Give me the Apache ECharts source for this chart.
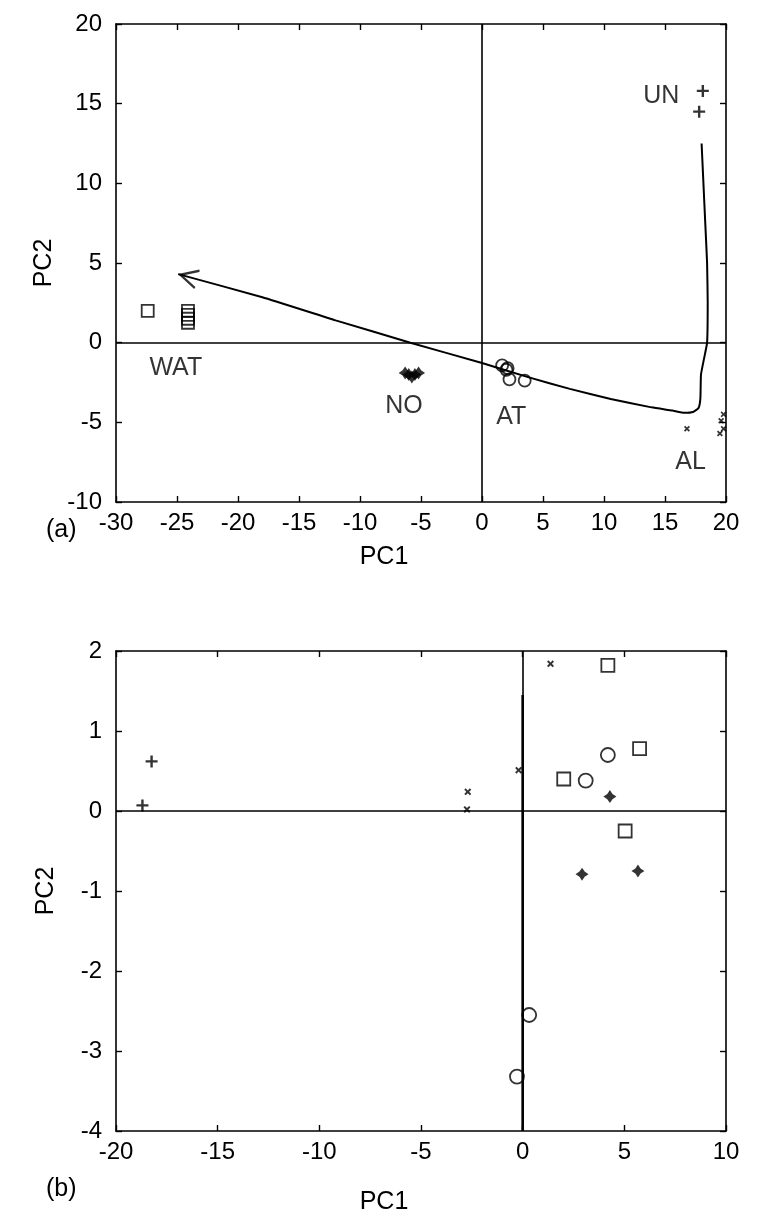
<!DOCTYPE html>
<html><head><meta charset="utf-8">
<script src="https://cdn.jsdelivr.net/npm/echarts@6/dist/echarts.min.js"></script>
<style>html,body{margin:0;padding:0;background:#fff}#c{width:766px;height:1230px}</style>
</head><body><div id="c"></div>
<script>
// ---------- Panel (a) ----------
const aXTicks = {min: -30, max: 20, interval: 5};
const aYTicks = {min: -10, max: 20, interval: 5};
const a_UN  = [[18.1, 15.8], [17.8, 14.5]];
const a_WAT = [[-27.4, 2.0], [-24.1, 2.0], [-24.1, 1.75], [-24.1, 1.5], [-24.1, 1.25]];
const a_NO  = [[-6.3, -1.9], [-6.0, -2.0], [-5.75, -2.15], [-5.5, -2.0], [-5.2, -1.9]];
const a_AT  = [[1.65, -1.43], [2.0, -1.7], [2.1, -1.6], [2.25, -2.3], [3.5, -2.38]];
const a_AL  = [[16.8, -5.4], [19.8, -4.5], [19.6, -4.9], [19.8, -5.4], [19.5, -5.7]];
const a_path = [[18.0, 12.5], [18.15, 10.0], [18.3, 7.5], [18.45, 5.0], [18.5, 2.5], [18.45, 0.0],
  [18.2, -1.0], [17.95, -2.0], [17.9, -3.5], [17.75, -4.1], [17.3, -4.35], [16.6, -4.4],
  [15.6, -4.26], [13.9, -4.06], [10.55, -3.53], [7.2, -2.9], [3.85, -2.18], [0.0, -1.28],
  [-5.87, 0.0], [-12.0, 1.4], [-18.0, 2.85], [-24.9, 4.3]];
const a_labelText = ['UN', 'WAT', 'NO', 'AT', 'AL'];
const a_labelPos  = [[14.7, 15.5], [-25.1, -1.6], [-6.4, -4.0], [2.4, -4.7], [17.1, -7.5]];

// ---------- Panel (b) ----------
const bXTicks = {min: -20, max: 10, interval: 5};
const bYTicks = {min: -4, max: 2, interval: 1};
const b_plus   = [[-18.25, 0.62], [-18.7, 0.07]];
const b_cross  = [[1.37, 1.84], [-0.2, 0.51], [-2.7, 0.24], [-2.74, 0.02]];
const b_square = [[4.19, 1.82], [5.75, 0.78], [2.02, 0.40], [5.04, -0.25]];
const b_circle = [[4.19, 0.70], [3.1, 0.38], [0.32, -2.55], [-0.28, -3.32]];
const b_star   = [[4.29, 0.18], [2.92, -0.79], [5.67, -0.75]];
const b_path   = [[0.0, 1.45], [0.0, -4.0]];

const axisLabelText = ['PC1', 'PC2'];
const panelText = ['(a)', '(b)'];

// ---------- styling ----------
const INK = '#000';
const FONT = 'Liberation Sans';
const PLUS = 'path://M4.8,0H7.2V4.8H12V7.2H7.2V12H4.8V7.2H0V4.8H4.8Z';
const CROSS = 'path://M2,0L5,3L8,0L10,2L7,5L10,8L8,10L5,7L2,10L0,8L3,5L0,2Z';
const STAR = 'path://M5,0L7,3L10,5L7,7L5,10L3,7L0,5L3,3Z';
// open chevron pointing left, tip at the centre of its box (speck on the far left balances it)
const ARROW = 'path://M1,8L1.02,8L1.02,8.02Z M33,0L17,8L33,16L33.6,14.2L21.2,8L33.6,1.8Z';

const grids = [
  {left: 116, top: 24, width: 610, height: 478, outerBoundsMode: 'none'},
  {left: 116, top: 651, width: 610, height: 480, outerBoundsMode: 'none'}
];

function xAx(gi, ticks, shown, nameGap) {
  return {
    type: 'value', gridIndex: gi, position: shown ? 'bottom' : 'top',
    min: ticks.min, max: ticks.max, interval: ticks.interval,
    axisLine: {show: true, onZero: false, lineStyle: {color: INK, width: 1.6}},
    axisTick: {show: true, inside: true, length: 6, lineStyle: {color: INK, width: 1.4}},
    axisLabel: {show: shown, color: INK, fontSize: 24, fontFamily: FONT, margin: 9},
    splitLine: {show: false},
    name: shown ? axisLabelText[0] : '', nameLocation: 'middle', nameGap: nameGap,
    nameTextStyle: {color: INK, fontSize: 25, fontFamily: FONT, padding: [0, 74, 0, 0]}
  };
}
function yAx(gi, ticks, shown) {
  return {
    type: 'value', gridIndex: gi, position: shown ? 'left' : 'right',
    min: ticks.min, max: ticks.max, interval: ticks.interval,
    axisLine: {show: true, onZero: false, lineStyle: {color: INK, width: 1.6}},
    axisTick: {show: true, inside: true, length: 6, lineStyle: {color: INK, width: 1.4}},
    axisLabel: {show: shown, color: INK, fontSize: 24, fontFamily: FONT, margin: 14},
    splitLine: {show: false},
    name: shown ? axisLabelText[1] : '', nameLocation: 'middle', nameGap: 57,
    nameTextStyle: {color: INK, fontSize: 25, fontFamily: FONT}
  };
}

function pts(data, xi, yi, symbol, size, filled, extra) {
  return Object.assign({
    type: 'scatter', xAxisIndex: xi, yAxisIndex: yi, data: data,
    symbol: symbol, symbolSize: size, silent: true, z: 5,
    itemStyle: filled ? {color: INK, borderWidth: 0}
                      : {color: 'rgba(0,0,0,0)', borderColor: INK, borderWidth: 1.8}
  }, extra || {});
}
function zeroLines(xi, yi) {
  return {
    type: 'scatter', xAxisIndex: xi, yAxisIndex: yi, data: [], silent: true,
    markLine: {silent: true, symbol: 'none', animation: false, label: {show: false},
      lineStyle: {color: INK, width: 1.6, type: 'solid'},
      data: [{xAxis: 0}, {yAxis: 0}]}
  };
}

const n = a_path.length;
const option = {
  animation: false,
  backgroundColor: '#fff',
  grid: grids,
  xAxis: [xAx(0, aXTicks, true, 43), xAx(0, aXTicks, false, 0), xAx(1, bXTicks, true, 59), xAx(1, bXTicks, false, 0)],
  yAxis: [yAx(0, aYTicks, true), yAx(0, aYTicks, false), yAx(1, bYTicks, true), yAx(1, bYTicks, false)],
  series: [
    zeroLines(0, 0),
    {
      type: 'line', xAxisIndex: 0, yAxisIndex: 0, data: a_path, symbol: 'none', silent: true,
      smooth: 0.15, lineStyle: {color: INK, width: 2}, z: 4
    },
    {
      id: 'arrowHead', type: 'scatter', xAxisIndex: 0, yAxisIndex: 0, silent: true, z: 6,
      data: [a_path[n - 1]], symbol: ARROW, symbolSize: [40, 20], symbolRotate: 0,
      itemStyle: {color: INK, borderWidth: 0}
    },
    pts(a_UN, 0, 0, PLUS, 12, true),
    pts(a_WAT, 0, 0, 'rect', 12, false),
    pts(a_NO, 0, 0, STAR, 13, true),
    pts(a_AT, 0, 0, 'circle', 12, false),
    pts(a_AL, 0, 0, CROSS, 6, true),
    {
      type: 'scatter', xAxisIndex: 0, yAxisIndex: 0, silent: true, symbol: 'circle', symbolSize: 1,
      itemStyle: {color: 'rgba(0,0,0,0)'},
      data: a_labelText.map((t, i) => ({name: t, value: a_labelPos[i]})),
      label: {show: true, position: 'inside', formatter: p => p.name, color: INK, fontSize: 25, fontFamily: FONT}
    },
    zeroLines(2, 2),
    {
      type: 'line', xAxisIndex: 2, yAxisIndex: 2, data: b_path, symbol: 'none', silent: true,
      lineStyle: {color: INK, width: 2.6}, z: 4
    },
    pts(b_plus, 2, 2, PLUS, 12, true),
    pts(b_cross, 2, 2, CROSS, 7, true),
    pts(b_square, 2, 2, 'rect', 13, false),
    pts(b_circle, 2, 2, 'circle', 14, false),
    pts(b_star, 2, 2, STAR, 13, true)
  ],
  graphic: [
    {type: 'text', left: 46, top: 518, style: {text: panelText[0], fill: INK, font: '25px "Liberation Sans"'}},
    {type: 'text', left: 46, top: 1177, style: {text: panelText[1], fill: INK, font: '25px "Liberation Sans"'}}
  ]
};

const chart = echarts.init(document.getElementById('c'), null, {renderer: 'canvas'});
chart.setOption(option);
// orient the arrow head along the last segment of the path
const p1 = chart.convertToPixel({xAxisIndex: 0, yAxisIndex: 0}, a_path[n - 2]);
const p2 = chart.convertToPixel({xAxisIndex: 0, yAxisIndex: 0}, a_path[n - 1]);
const ang = Math.atan2(-(p2[1] - p1[1]), p2[0] - p1[0]) * 180 / Math.PI; // screen direction, math convention
chart.setOption({series: [{id: 'arrowHead', symbolRotate: ang - 180}]});
</script>
</body></html>
